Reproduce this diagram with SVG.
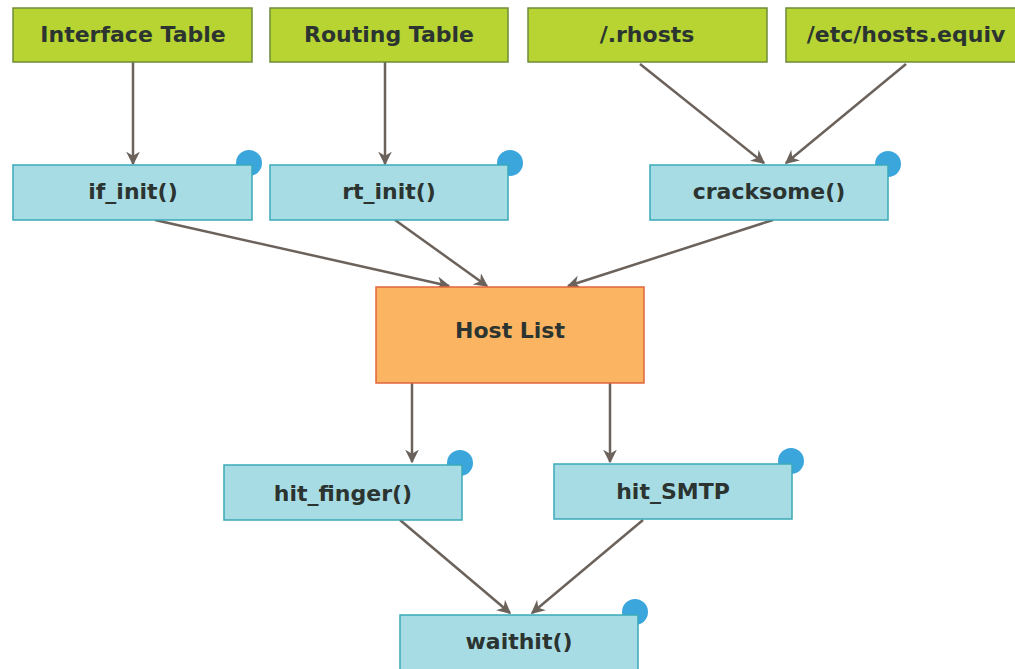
<svg xmlns="http://www.w3.org/2000/svg" width="1015" height="669" viewBox="0 0 1015 669">
<defs>
<style>
.src rect{fill:#b7d433;stroke:#6f8a3a;stroke-width:1.5}
.fn rect{fill:#a8dce4;stroke:#3aa9b9;stroke-width:1.5}
.hl rect{fill:#fbb462;stroke:#e0653c;stroke-width:1.5}
.dot{fill:#3aa6dc}
text{font-family:"DejaVu Sans","Liberation Sans",sans-serif;font-weight:bold;font-size:22px;fill:#2b3430;text-anchor:middle;dominant-baseline:central}
.c line{stroke:#6b625c;stroke-width:2.5;marker-end:url(#ah)}
</style>
<marker id="ah" viewBox="0 0 10 10" refX="9" refY="5" markerWidth="5.5" markerHeight="5.5" orient="auto" markerUnits="strokeWidth">
<path d="M0,0 L10,5 L0,10 L3,5 z" fill="#6b625c"/>
</marker>
</defs>
<rect width="1015" height="669" fill="#ffffff"/>
<g class="c">
<line x1="133" y1="62" x2="133" y2="164"/>
<line x1="385" y1="62" x2="385" y2="164"/>
<line x1="640" y1="64" x2="764" y2="163"/>
<line x1="906" y1="64" x2="786" y2="163"/>
<line x1="155" y1="220" x2="449" y2="286"/>
<line x1="395" y1="220" x2="487" y2="286"/>
<line x1="773" y1="220" x2="568" y2="286"/>
<line x1="412" y1="383" x2="412" y2="462"/>
<line x1="610" y1="383" x2="610" y2="462"/>
<line x1="400" y1="520" x2="510" y2="613"/>
<line x1="643" y1="520" x2="532" y2="613"/>
</g>
<g id="interface-table" class="src"><rect x="13" y="8" width="239" height="54"/><text x="133" y="34">Interface Table</text></g>
<g id="routing-table" class="src"><rect x="270" y="8" width="238" height="54"/><text x="389" y="34">Routing Table</text></g>
<g id="rhosts" class="src"><rect x="528" y="8" width="239" height="54"/><text x="647" y="34">/.rhosts</text></g>
<g id="hosts-equiv" class="src"><rect x="786" y="8" width="240" height="54"/><text x="906" y="34">/etc/hosts.equiv</text></g>
<g id="if-init" class="fn"><circle class="dot" cx="249" cy="163" r="13"/><rect x="13" y="165" width="239" height="55"/><text x="133" y="191">if_init()</text></g>
<g id="rt-init" class="fn"><circle class="dot" cx="510" cy="163" r="13"/><rect x="270" y="165" width="238" height="55"/><text x="389" y="191">rt_init()</text></g>
<g id="cracksome" class="fn"><circle class="dot" cx="888" cy="164" r="13"/><rect x="650" y="165" width="238" height="55"/><text x="769" y="191">cracksome()</text></g>
<g id="host-list" class="hl"><rect x="376" y="287" width="268" height="96"/><text x="510" y="330">Host List</text></g>
<g id="hit-finger" class="fn"><circle class="dot" cx="460" cy="463" r="13"/><rect x="224" y="465" width="238" height="55"/><text x="343" y="493">hit_finger()</text></g>
<g id="hit-smtp" class="fn"><circle class="dot" cx="791" cy="461" r="13"/><rect x="554" y="464" width="238" height="55"/><text x="673" y="491">hit_SMTP</text></g>
<g id="waithit" class="fn"><circle class="dot" cx="635" cy="612" r="13"/><rect x="400" y="615" width="238" height="56"/><text x="519" y="641">waithit()</text></g>
</svg>
